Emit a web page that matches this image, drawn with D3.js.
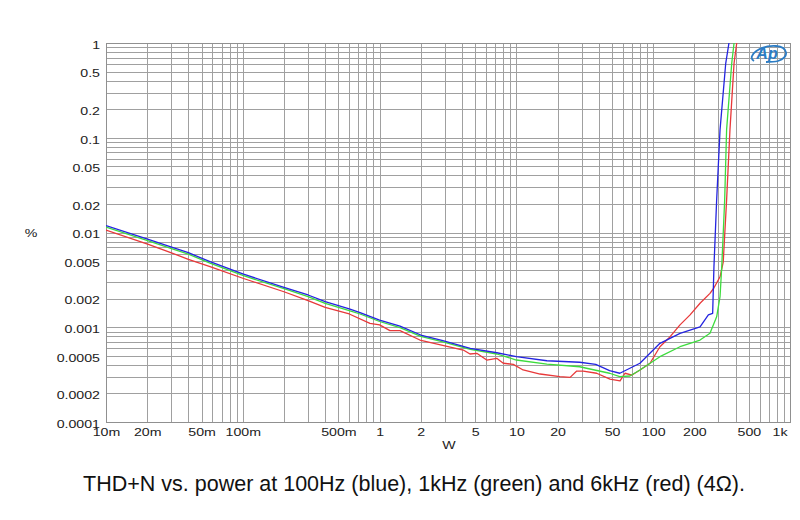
<!DOCTYPE html>
<html>
<head>
<meta charset="utf-8">
<script src="https://cdn.jsdelivr.net/npm/d3@7"></script>
<style>
  html, body { margin: 0; padding: 0; background: #fff; }
  svg { display: block; }
</style>
</head>
<body>
<svg id="chart" width="800" height="520"></svg>
<script>
// ---------- data (power in W, THD+N in %) ----------
const bluePower = [0.01, 0.0204, 0.0294, 0.04, 0.0576, 0.1, 0.2, 0.3, 0.4, 0.6, 0.72, 1.0, 1.41, 2.0, 2.9, 4.6, 7.2, 10, 16.7, 29, 38, 48, 57, 80, 112, 157, 220, 253, 272, 278, 291, 308, 339, 358];
const blueTHD   = [0.0118, 0.00848, 0.00708, 0.00612, 0.00492, 0.00365, 0.00264, 0.00219, 0.00186, 0.00156, 0.00143, 0.00119, 0.00103, 0.000828, 0.000721, 0.0006, 0.000538, 0.000489, 0.000443, 0.000427, 0.000405, 0.000348, 0.000327, 0.000417, 0.000677, 0.000863, 0.00101, 0.00135, 0.0014, 0.00436, 0.022, 0.121, 0.611, 1.0];

const greenPower = [0.01, 0.0204, 0.0294, 0.04, 0.0576, 0.1, 0.2, 0.3, 0.4, 0.6, 0.72, 1.0, 1.41, 2.0, 2.9, 4.6, 7.2, 10, 16.7, 29, 48, 57, 67.6, 80, 112, 157, 220, 260, 291, 308, 317, 325, 333, 344, 375, 390];
const greenTHD   = [0.0114, 0.00818, 0.00683, 0.00591, 0.00475, 0.00352, 0.00255, 0.00211, 0.00179, 0.0015, 0.00138, 0.00115, 0.00099, 0.0008, 0.0007, 0.000585, 0.000522, 0.000451, 0.000409, 0.000383, 0.000327, 0.000301, 0.000306, 0.000354, 0.000489, 0.000623, 0.000733, 0.000863, 0.00129, 0.0021, 0.00436, 0.00981, 0.022, 0.121, 0.611, 1.0];

const redPower = [0.01, 0.0204, 0.0294, 0.04, 0.0576, 0.1, 0.2, 0.3, 0.4, 0.6, 0.85, 1.0, 1.19, 1.41, 1.97, 4.09, 4.58, 5.13, 6.07, 7.18, 8.02, 9.49, 11.2, 14.9, 20.8, 24.7, 27.6, 30.8, 38.6, 48.3, 57.2, 62.2, 70, 80.1, 94.8, 112, 133, 157, 186, 220, 260, 277, 308, 325, 344, 364, 390, 408];
const redTHD   = [0.0106, 0.00751, 0.00618, 0.00521, 0.00436, 0.00329, 0.00237, 0.00191, 0.00162, 0.00138, 0.0011, 0.00106, 0.00092, 0.00092, 0.000733, 0.000575, 0.000522, 0.000531, 0.000451, 0.00047, 0.000417, 0.000406, 0.000354, 0.000321, 0.000301, 0.000296, 0.000345, 0.000345, 0.000327, 0.000284, 0.000271, 0.000327, 0.000313, 0.000354, 0.000417, 0.000623, 0.000795, 0.00106, 0.00135, 0.00179, 0.00228, 0.00258, 0.00341, 0.00488, 0.022, 0.121, 0.611, 1.0];

const xTickValues = [0.01, 0.02, 0.05, 0.1, 0.5, 1, 2, 5, 10, 20, 50, 100, 200, 500, 1000];
const xTickLabels = ["10m", "20m", "50m", "100m", "500m", "1", "2", "5", "10", "20", "50", "100", "200", "500", "1k"];
const yTickValues = [1, 0.5, 0.2, 0.1, 0.05, 0.02, 0.01, 0.005, 0.002, 0.001, 0.0005, 0.0002, 0.0001];
const yTickLabels = ["1", "0.5", "0.2", "0.1", "0.05", "0.02", "0.01", "0.005", "0.002", "0.001", "0.0005", "0.0002", "0.0001"];

const titleText = "THD+N vs. power at 100Hz (blue), 1kHz (green) and 6kHz (red) (4\u03A9).";

// ---------- layout ----------
const L = 106, R = 790, T = 43, B = 422;
const svg = d3.select("#chart");
const x = d3.scaleLog().domain([0.01, 1000]).range([L, R]);
const y = d3.scaleLog().domain([0.0001, 1]).range([B, T]);

const gridColor = "#a0a0a0";

// grid
const grid = svg.append("g").attr("shape-rendering", "crispEdges");
grid.selectAll("line.v").data(x.ticks()).enter().append("line")
  .attr("x1", d => Math.round(x(d)) + 0.5).attr("x2", d => Math.round(x(d)) + 0.5)
  .attr("y1", T).attr("y2", B)
  .attr("stroke", gridColor).attr("stroke-width", 1);
grid.selectAll("line.h").data(y.ticks()).enter().append("line")
  .attr("y1", d => Math.round(y(d)) + 0.5).attr("y2", d => Math.round(y(d)) + 0.5)
  .attr("x1", L).attr("x2", R)
  .attr("stroke", gridColor).attr("stroke-width", 1);
// frame
svg.append("rect").attr("x", L + 0.5).attr("y", T + 0.5)
  .attr("width", R - L).attr("height", B - T)
  .attr("fill", "none").attr("stroke", "#909090").attr("shape-rendering", "crispEdges");

// clip
svg.append("clipPath").attr("id", "plotclip").append("rect")
  .attr("x", L).attr("y", T).attr("width", R - L + 1).attr("height", B - T);

// curves
const line = d3.line().x(d => x(d[0])).y(d => y(d[1]));
const series = [
  {p: redPower, v: redTHD, c: "#e8393a"},
  {p: greenPower, v: greenTHD, c: "#3ddc3d"},
  {p: bluePower, v: blueTHD, c: "#2424e0"}
];
const gLines = svg.append("g").attr("clip-path", "url(#plotclip)");
series.forEach(s => {
  gLines.append("path")
    .datum(s.p.map((p, i) => [p, s.v[i]]))
    .attr("d", line)
    .attr("fill", "none")
    .attr("stroke", s.c)
    .attr("stroke-width", 1.3)
    .attr("stroke-linejoin", "round");
});

// axes
const fontFam = "'Liberation Sans', Arial, sans-serif";
const stretch = 1.35;
function stretchText(sel) {
  sel.each(function() {
    const w = this.getComputedTextLength();
    d3.select(this).attr("textLength", w * stretch).attr("lengthAdjust", "spacingAndGlyphs");
  });
}

const yAxis = d3.axisLeft(y).tickValues(yTickValues)
  .tickFormat((d, i) => yTickLabels[i]).tickSize(0).tickPadding(6);
const gy = svg.append("g").attr("transform", `translate(${L},0)`).call(yAxis);
gy.select(".domain").remove();
gy.selectAll("text")
  .attr("font-family", fontFam).attr("font-size", 10.5).attr("fill", "#222")
  .attr("dy", "0.5em")
  .call(stretchText);

const xAxis = d3.axisBottom(x).tickValues(xTickValues)
  .tickFormat((d, i) => xTickLabels[i]).tickSize(0).tickPadding(3);
const gx = svg.append("g").attr("transform", `translate(0,${B})`).call(xAxis);
gx.select(".domain").remove();
gx.selectAll("text")
  .attr("font-family", fontFam).attr("font-size", 10.5).attr("fill", "#222")
  .attr("dy", "1em")
  .call(stretchText);
gx.selectAll(".tick").filter(d => d === 1000).select("text")
  .attr("text-anchor", "end").attr("dx", -3);

// axis titles
svg.append("text").attr("x", 31).attr("y", 237).attr("text-anchor", "middle")
  .attr("font-family", fontFam).attr("font-size", 10.5).attr("fill", "#222")
  .text("%").call(stretchText);
svg.append("text").attr("x", 449).attr("y", 449).attr("text-anchor", "middle")
  .attr("font-family", fontFam).attr("font-size", 10.5).attr("fill", "#222")
  .text("W").call(stretchText);

// title
svg.append("text").attr("x", 414).attr("y", 491).attr("text-anchor", "middle")
  .attr("font-family", fontFam).attr("font-size", 21.5).attr("fill", "#111")
  .text(titleText);

// Ap logo
const logo = svg.append("g").attr("transform", "translate(768,54)");
logo.append("path")
  .attr("d", "M -14 7 C -22 2, -8 -9, 8 -8 C 20 -7, 22 3, 10 7 C 6 8, 2 8, -2 8")
  .attr("fill", "none").attr("stroke", "#2c7cc4").attr("stroke-width", 1.8);
logo.append("text").attr("x", -1).attr("y", 5).attr("text-anchor", "middle")
  .attr("font-family", fontFam).attr("font-size", 16).attr("font-style", "italic")
  .attr("font-weight", "bold").attr("fill", "#2c7cc4").text("Ap");
</script>
</body>
</html>
